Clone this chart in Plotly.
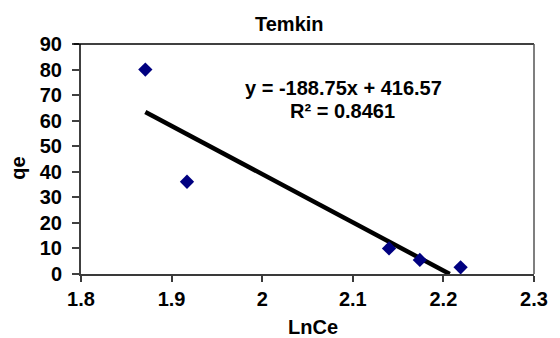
import plotly.graph_objects as go

# Data
ln_ce = [1.871, 1.917, 2.140, 2.174, 2.219]
qe = [80.0, 36.1, 10.0, 5.5, 2.6]

# Linear trendline coefficients (from the chart's equation)
slope = -188.75
intercept = 416.57
r_squared = 0.8461

x_ticks = [1.8, 1.9, 2.0, 2.1, 2.2, 2.3]
y_ticks = [0, 10, 20, 30, 40, 50, 60, 70, 80, 90]

# Trendline from the first x to where it meets y = 0 (axis minimum)
x_start = min(ln_ce)
x_end = -intercept / slope
trend_x = [x_start, x_end]
trend_y = [slope * x + intercept for x in trend_x]

FONT = "Liberation Sans, Arial, sans-serif"

fig = go.Figure()
fig.add_trace(go.Scatter(
    x=trend_x, y=trend_y, mode="lines",
    line=dict(color="black", width=4.5),
    showlegend=False, hoverinfo="skip",
))
fig.add_trace(go.Scatter(
    x=ln_ce, y=qe, mode="markers",
    marker=dict(symbol="diamond", size=11, color="#000080"),
    showlegend=False, cliponaxis=False,
))

fig.update_layout(
    width=560, height=338,
    margin=dict(l=81, r=17, t=44, b=64),
    paper_bgcolor="white", plot_bgcolor="white",
    font=dict(family=FONT, size=20, color="black"),
    xaxis=dict(
        range=[1.8, 2.3], tickvals=x_ticks,
        ticktext=[("<b>%g</b>" % v) for v in x_ticks],
        showgrid=False, zeroline=False,
        showline=True, linecolor="#3a3a3a", linewidth=2,
        ticks="outside", ticklen=6, tickwidth=1.5, tickcolor="#3a3a3a",
        tickfont=dict(family=FONT, size=20, color="black"),
    ),
    yaxis=dict(
        range=[0, 90], tickvals=y_ticks,
        ticktext=[("<b>%d</b>" % v) for v in y_ticks],
        showgrid=False, zeroline=False,
        showline=True, linecolor="#404040", linewidth=2,
        ticks="outside", ticklen=7, tickwidth=1.5, tickcolor="#404040",
        tickfont=dict(family=FONT, size=20, color="black"),
        ticklabelstandoff=6,
    ),
    shapes=[
        dict(type="line", xref="paper", yref="paper", x0=-0.016, x1=1, y0=1, y1=1,
             line=dict(color="black", width=1.5)),
        dict(type="line", xref="paper", yref="paper", x0=1, x1=1, y0=0, y1=1,
             line=dict(color="#555555", width=1.5)),
    ],
    annotations=[
        dict(text="<b>Temkin</b>", xref="paper", yref="paper", x=0.46, y=1.087,
             showarrow=False, xanchor="center", yanchor="middle",
             font=dict(family=FONT, size=20, color="black")),
        dict(text="<b>LnCe</b>", xref="paper", yref="paper", x=0.513, y=-0.23,
             showarrow=False, xanchor="center", yanchor="middle",
             font=dict(family=FONT, size=20, color="black")),
        dict(text="<b>qe</b>", xref="paper", yref="paper", x=-0.138, y=0.46,
             showarrow=False, xanchor="center", yanchor="middle", textangle=-90,
             font=dict(family=FONT, size=20, color="black")),
        dict(text="<b>y = %.2fx + %.2f</b>" % (slope, intercept), xref="paper", yref="paper",
             x=(348.5 - 81) / 462, y=(274 - 88) / 230, showarrow=False,
             xanchor="center", yanchor="middle",
             font=dict(family=FONT, size=20, color="black")),
        dict(text="<b>R² = %.4f</b>" % r_squared, xref="paper", yref="paper",
             x=(347.5 - 81) / 462, y=(274 - 111) / 230, showarrow=False,
             xanchor="center", yanchor="middle",
             font=dict(family=FONT, size=20, color="black")),
    ],
)

fig.write_html("out.html")
